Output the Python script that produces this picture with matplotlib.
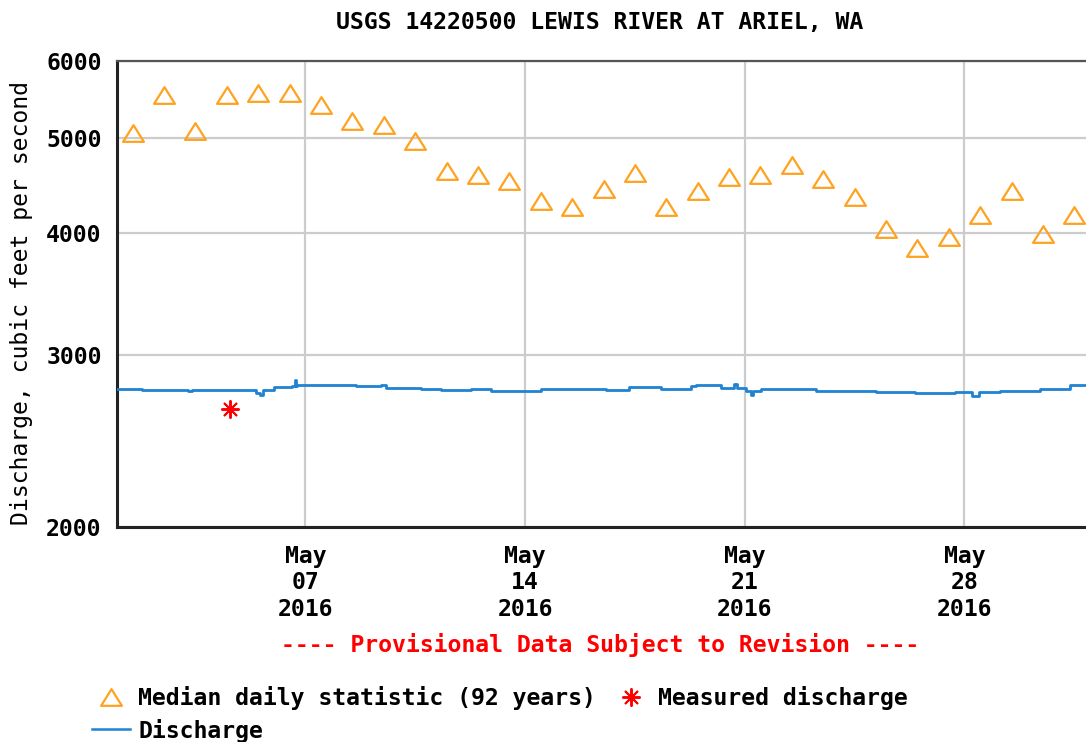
import numpy as np
import pandas as pd
import matplotlib
matplotlib.use("Agg")
import matplotlib.pyplot as plt
import matplotlib.dates as mdates
from matplotlib.path import Path
from matplotlib.lines import Line2D
from matplotlib.ticker import NullLocator, FixedLocator, FixedFormatter

# ---- median daily statistic (92 years), one value per day, plotted at noon
median_days = pd.date_range("2016-05-01 12:00", periods=31, freq="D")
median_cfs = [5060, 5540, 5085, 5535, 5565, 5565, 5410, 5205, 5160, 4965,
              4625, 4585, 4520, 4310, 4250, 4435, 4605, 4250, 4415, 4560,
              4585, 4690, 4540, 4350, 4035, 3865, 3960, 4170, 4415, 3995, 4170]

# ---- measured discharge (field measurement)
meas_time = [pd.Timestamp("2016-05-04 14:40")]
meas_cfs = [2641]

# ---- provisional discharge record (step values)
q_time = pd.to_datetime([
    "2016-05-01 00:00", "2016-05-01 18:45", "2016-05-03 06:00", "2016-05-03 09:00",
    "2016-05-05 10:30", "2016-05-05 13:00", "2016-05-05 15:45", "2016-05-06 00:15",
    "2016-05-06 13:30", "2016-05-06 16:00", "2016-05-06 16:30", "2016-05-06 18:00",
    "2016-05-08 03:45", "2016-05-08 15:00", "2016-05-09 10:00", "2016-05-09 14:00",
    "2016-05-10 16:45", "2016-05-11 08:00", "2016-05-12 06:45", "2016-05-12 22:00",
    "2016-05-13 13:15", "2016-05-14 12:15", "2016-05-15 00:00", "2016-05-16 14:00",
    "2016-05-17 07:30", "2016-05-18 08:00", "2016-05-19 06:45", "2016-05-19 10:30",
    "2016-05-20 05:45", "2016-05-20 16:00", "2016-05-20 18:00", "2016-05-21 00:45",
    "2016-05-21 05:00", "2016-05-21 06:00", "2016-05-21 12:15", "2016-05-23 06:15",
    "2016-05-25 04:00", "2016-05-26 10:30", "2016-05-27 17:00", "2016-05-28 06:00",
    "2016-05-28 10:45", "2016-05-29 03:15", "2016-05-30 10:00", "2016-05-31 09:00",
    "2016-05-31 23:45"])
q_cfs = [2766, 2762, 2759, 2762,
         2740, 2730, 2762, 2782,
         2788, 2828, 2788, 2792,
         2798, 2788, 2798, 2775,
         2769, 2762, 2769, 2759,
         2753, 2769, 2772, 2762,
         2782, 2772, 2788, 2792,
         2775, 2801, 2775, 2756,
         2730, 2756, 2769, 2753,
         2749, 2746, 2749, 2723,
         2749, 2753, 2766, 2792,
         2792]

y_ticks = [2000, 3000, 4000, 5000, 6000]

plt.rcParams["font.family"] = ["DejaVu Sans Mono"]
plt.rcParams["font.weight"] = "bold"
FS = 16.7

fig = plt.figure(figsize=(10.86, 7.42), dpi=100)
ax = fig.add_axes([117 / 1086, 1 - 527 / 742, (1090 - 117) / 1086, (527 - 61) / 742])

orange = "#ffa21f"
blue = "#1f82d2"

tri = Path([(-1, -0.8), (1, -0.8), (0, 0.8), (-1, -0.8)], closed=True)

ax.plot(q_time, q_cfs, color=blue, lw=2.0, drawstyle="steps-post", zorder=3)
ax.plot(median_days, median_cfs, linestyle="none", marker=tri, ms=15,
        mfc="none", mec=orange, mew=1.6, zorder=4)
ax.plot(meas_time, meas_cfs, linestyle="none", marker=(8, 2, 0), ms=13,
        color="#ff0000", mew=1.4, zorder=5)

ax.set_yscale("log")
ax.set_ylim(2000, 6000)
ax.yaxis.set_major_locator(FixedLocator(y_ticks))
ax.yaxis.set_major_formatter(FixedFormatter([str(v) for v in y_ticks]))
ax.yaxis.set_minor_locator(NullLocator())

ax.set_xlim(pd.Timestamp("2016-05-01"), pd.Timestamp("2016-06-01"))
ax.xaxis.set_major_locator(mdates.DayLocator(bymonthday=[7, 14, 21, 28]))
ax.xaxis.set_major_formatter(mdates.DateFormatter("%b\n%d\n%Y"))

ax.grid(True, color="#cccccc", lw=1.6, zorder=0)
ax.set_axisbelow(True)
ax.tick_params(axis="both", length=0, labelsize=FS)
ax.tick_params(axis="y", pad=11)
ax.tick_params(axis="x", pad=13)
for lab in ax.get_xticklabels():
    lab.set_linespacing(1.19)

for s in ["left", "bottom"]:
    ax.spines[s].set_color("#222222")
    ax.spines[s].set_linewidth(2.2)
ax.spines["top"].set_color("#555555")
ax.spines["top"].set_linewidth(1.6)

ax.set_ylabel("Discharge, cubic feet per second", fontsize=FS)
ax.yaxis.set_label_coords(-0.0865, 0.481)

fig.text(600 / 1086, 1 - 22 / 742, "USGS 14220500 LEWIS RIVER AT ARIEL, WA",
         ha="center", va="center", fontsize=FS)
fig.text(600 / 1086, 1 - 645 / 742, "---- Provisional Data Subject to Revision ----",
         ha="center", va="center", fontsize=FS, color="#ff0000")

handles = [
    Line2D([], [], linestyle="none", marker=tri, ms=15, mfc="none", mec=orange, mew=1.6),
    Line2D([], [], color=blue, lw=1.8),
    Line2D([], [], linestyle="none", marker=(8, 2, 0), ms=13, color="#ff0000", mew=1.4),
]
labels = ["Median daily statistic (92 years)", "Discharge", "Measured discharge"]
fig.legend(handles, labels, ncol=2, loc="upper left",
           bbox_to_anchor=(92 / 1086, 1 - 686 / 742), frameon=False,
           fontsize=FS, handlelength=1.64, handletextpad=0.35,
           columnspacing=0.7, labelspacing=0.37, borderaxespad=0, borderpad=0)

fig.savefig("out.png", dpi=100)
